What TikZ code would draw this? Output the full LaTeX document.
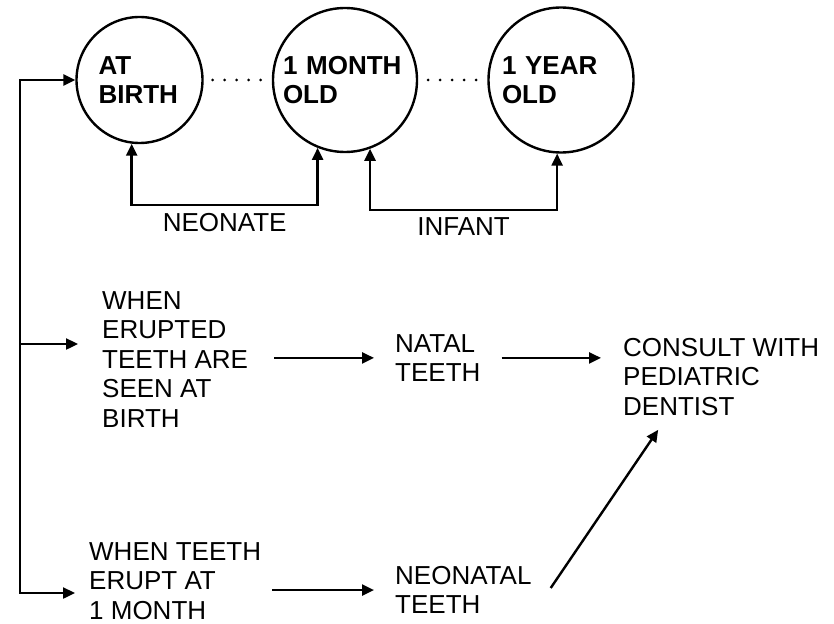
\documentclass[tikz,border=0pt]{standalone}
\usepackage{fontspec}
\setmainfont{Liberation Sans}
\usetikzlibrary{arrows.meta}
\usetikzlibrary{calc}

\begin{document}
\begin{tikzpicture}[x=1pt,y=-1pt,line width=2.4pt,
  every node/.style={font=\fontsize{26}{29.5}\selectfont},
  stage/.style={draw,circle,inner sep=0pt,align=left,font=\fontsize{26}{29.5}\selectfont\bfseries},
  txt/.style={inner sep=0pt,align=left,anchor=north west},
  lbl/.style={inner sep=0pt},
  arr/.style={-{Triangle[length=12pt,width=11pt]}},
  dbl/.style={{Triangle[length=12pt,width=11pt]}-{Triangle[length=12pt,width=11pt]}},
  dots/.style={line cap=round,dash pattern=on 0pt off 12pt,line width=3pt}]
\useasboundingbox (0,0) rectangle (834,623);

% ages
\draw(139.5,80) node[stage,minimum size=126pt,text width=82pt] (birth) {AT\\BIRTH};
\draw(345,80) node[stage,minimum size=144pt,text width=124pt] (month) {1 MONTH\\OLD};
\draw(561,80) node[stage,minimum size=145pt,text width=118pt] (year) {1 YEAR\\OLD};

\draw[dots,shorten <=9pt,shorten >=4pt] (birth.east) -- (month.west);
\draw[dots,shorten <=10pt,shorten >=4pt] (month.east) -- (year.west);

\draw[dbl] (birth.263) -- ++(0,61) -| node[lbl,pos=0.25,below=7pt] (neonate) {NEONATE} (month.248);
\draw[dbl] (month.290) -- ++(0,61) -| node[lbl,pos=0.25,below=7pt] (infant) {INFANT} (year.267);

% teeth
\draw(101,290) node[txt] (erupted) {WHEN\\ERUPTED\\TEETH ARE\\SEEN AT\\BIRTH};
\draw(394,333) node[txt] (natal) {NATAL\\TEETH};
\draw(622,337) node[txt] (consult) {CONSULT WITH\\PEDIATRIC\\DENTIST};
\draw(88,541) node[txt] (whenteeth) {WHEN TEETH\\ERUPT AT\\1 MONTH};
\draw(394,565) node[txt] (neonatal) {NEONATAL\\TEETH};

\coordinate (bend) at (20,593);
\coordinate (fork) at (20,344);
\draw[dbl,shorten <=13pt] (bend -| whenteeth.west) -- (bend) |- (birth.west);
\draw[arr,shorten >=23pt] (fork) -- (fork -| erupted.west);

\draw[arr,shorten <=25pt,shorten >=20pt] (erupted.east |- natal.west) -- (natal.west);
\draw[arr,shorten <=20pt,shorten >=21pt] (natal.east) -- (natal.east -| consult.west);
\draw[arr,shorten <=10pt,shorten >=20pt] (whenteeth.east |- neonatal.west) -- (neonatal.west);
\draw[arr] ($(neonatal.east)+(18,-2)$) -- ($(consult.south)+(-63,13)$);
\end{tikzpicture}
\end{document}
